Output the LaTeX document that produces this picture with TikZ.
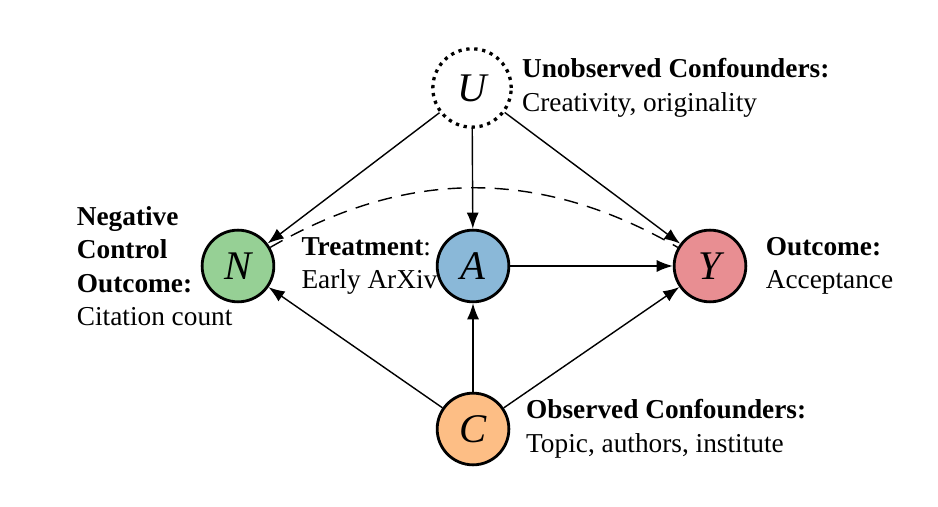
\documentclass[tikz,border=0pt]{standalone}
\usepackage{fontspec}
\setmainfont{Liberation Serif}
\usetikzlibrary{arrows.meta,positioning}
\definecolor{negcol}{HTML}{96D095}
\definecolor{trtcol}{HTML}{8AB8D8}
\definecolor{outcol}{HTML}{E88E92}
\definecolor{obscol}{HTML}{FDBE85}
\tikzset{
  var/.style={circle,draw,line width=1.2pt,minimum size=1.07cm,inner sep=0pt,font=\LARGE\itshape},
  unobs/.style={circle,draw,line width=1.4pt,dotted,minimum size=1.17cm,inner sep=0pt,font=\LARGE\itshape},
  causal/.style={line width=0.6pt,-{Latex[length=2.4mm,width=1.8mm]}},
  bidir/.style={line width=0.6pt,dashed,dash pattern=on 6pt off 4pt},
  lbl/.style={font=\fontsize{11.6}{14.2}\selectfont,align=left,inner sep=2pt},
}
\begin{document}
\begin{tikzpicture}
  \useasboundingbox (0,0) rectangle (14,7.567);
  % variables
  \node[unobs] (U) at (7.045,6.254) {U};
  \node[var,fill=negcol] (N) at (3.552,3.597) {N};
  \node[var,fill=trtcol] (A) at (7.06,3.597) {A};
  \node[var,fill=outcol] (Y) at (10.597,3.597) {Y};
  \node[var,fill=obscol] (C) at (7.06,1.164) {C};
  % labels
  \node[lbl,right=0.06cm of U] (Ulbl) {\textbf{Unobserved Confounders:}\\Creativity, originality};
  \node[lbl,left=-0.1cm of A] (Albl) {\textbf{Treatment}:\\Early ArXiv};
  \node[lbl,right=0.2cm of Y] (Ylbl) {\textbf{Outcome:}\\Acceptance};
  \node[lbl,right=0.16cm of C] (Clbl) {\textbf{Observed Confounders:}\\Topic, authors, institute};
  \node[lbl,anchor=west] (Nlbl) at (1.07,3.597) {\textbf{Negative}\\\textbf{Control}\\\textbf{Outcome:}\\Citation count};
  % edges
  \draw[causal] (U) -- (N);
  \draw[causal] (U) -- (A);
  \draw[causal] (U) -- (Y);
  \draw[causal] (A) -- (Y);
  \draw[causal] (C) -- (N);
  \draw[causal] (C) -- (A);
  \draw[causal] (C) -- (Y);
  \draw[bidir] (N) to[bend left=30] (Y);
\end{tikzpicture}
\end{document}
